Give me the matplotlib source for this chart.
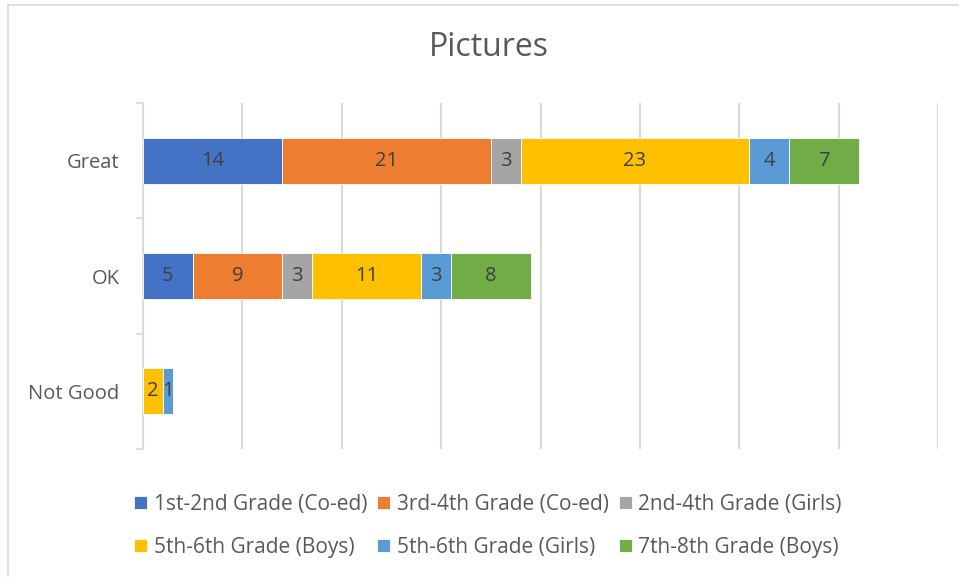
import numpy as np
import matplotlib.pyplot as plt
from matplotlib.lines import Line2D

# ratings shown top to bottom
categories = ['Great', 'OK', 'Not Good']
series = ['1st-2nd Grade (Co-ed)', '3rd-4th Grade (Co-ed)', '2nd-4th Grade (Girls)',
          '5th-6th Grade (Boys)', '5th-6th Grade (Girls)', '7th-8th Grade (Boys)']
grade_12_coed = [14, 5, 0]
grade_34_coed = [21, 9, 0]
grade_24_girls = [3, 3, 0]
grade_56_boys = [23, 11, 2]
grade_56_girls = [4, 3, 1]
grade_78_boys = [7, 8, 0]
colors = ['#4472C4', '#ED7D31', '#A5A5A5', '#FFC000', '#5B9BD5', '#70AD47']

values = [grade_12_coed, grade_34_coed, grade_24_girls,
          grade_56_boys, grade_56_girls, grade_78_boys]

plt.rcParams['font.family'] = ['Open Sans', 'DejaVu Sans']

fig = plt.figure(figsize=(9.59, 5.77), dpi=100)
ax = fig.add_axes([143 / 959, 1 - 449 / 577, (938 - 143) / 959, (449 - 103) / 577])

y = np.arange(len(categories))
left = np.zeros(len(categories))
handles = []
for name, vals, col in zip(series, values, colors):
    vals = np.array(vals, dtype=float)
    bars = ax.barh(y, vals, left=left, height=0.4, color=col, label=name,
                   edgecolor='white', linewidth=0.6, zorder=3)
    handles.append(bars)
    for yi, l, v in zip(y, left, vals):
        if v > 0:
            ax.text(l + v / 2, yi, f'{int(v)}', ha='center', va='center',
                    fontsize=14.5, color='#404040', zorder=4)
    left += vals

ax.set_xlim(0, 80)
ax.set_ylim(2.5, -0.5)
ax.set_xticks(np.arange(0, 81, 10))
ax.xaxis.grid(True, color='#D9D9D9', linewidth=1.5, zorder=0)
ax.tick_params(axis='x', length=0, labelbottom=False)

ax.set_yticks(y)
ax.set_yticklabels(categories)
ax.set_yticks([-0.5, 0.5, 1.5, 2.5], minor=True)
ax.tick_params(axis='y', which='major', length=0, pad=17, labelsize=14.5, labelcolor='#595959')
ax.tick_params(axis='y', which='minor', length=5, width=1.2, color='#D9D9D9')

for s in ['top', 'right', 'bottom']:
    ax.spines[s].set_visible(False)
ax.spines['left'].set_color('#D9D9D9')
ax.spines['left'].set_linewidth(1.2)

fig.text(489 / 959, 1 - 48 / 577, 'Pictures', ha='center', va='center',
         fontsize=23, color='#595959')

# legend filled row-wise like the original
order = [0, 3, 1, 4, 2, 5]
leg = fig.legend([handles[i] for i in order], [series[i] for i in order],
                 loc='center', bbox_to_anchor=(488 / 959, 1 - 526 / 577), ncol=3,
                 frameon=False, fontsize=15, handlelength=0.62, handleheight=0.62,
                 handletextpad=0.3, columnspacing=0.5, labelspacing=1.05)
for t in leg.get_texts():
    t.set_color('#595959')

# chart frame (only top and left edges visible)
fig.add_artist(Line2D([8 / 959, 1], [1 - 4.5 / 577, 1 - 4.5 / 577], color='#D9D9D9', linewidth=1.2))
fig.add_artist(Line2D([8 / 959, 8 / 959], [0, 1 - 4.5 / 577], color='#D9D9D9', linewidth=1.2))

fig.savefig('out.png', dpi=100)
